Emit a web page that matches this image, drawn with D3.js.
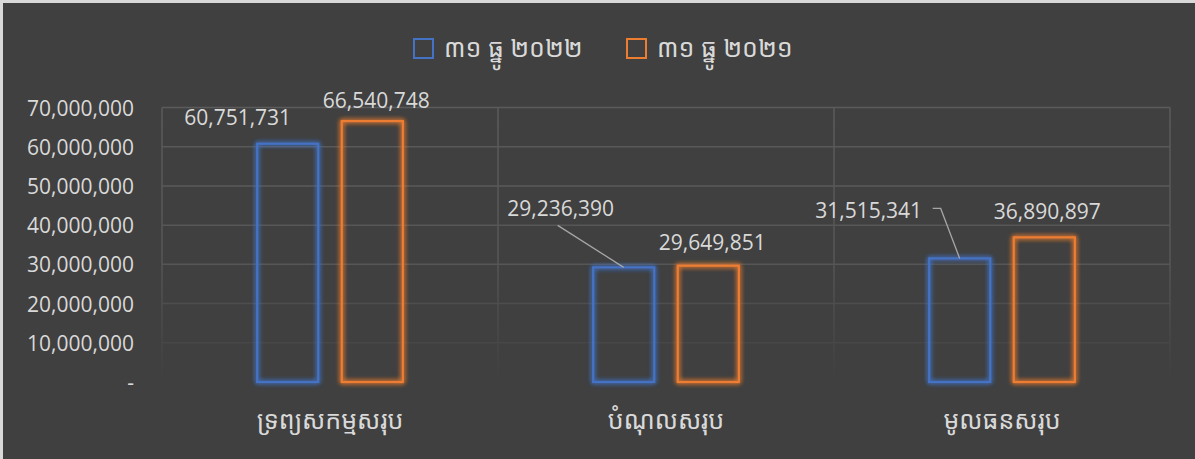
<!DOCTYPE html>
<html><head><meta charset="utf-8">
<script src="https://cdn.jsdelivr.net/npm/d3@7"></script>
<style>
html,body{margin:0;padding:0;background:#404040;}
svg{display:block;}
</style></head>
<body>
<svg id="chart" width="1195" height="459"></svg>
<script>
const categories = ["ទ្រព្យសកម្មសរុប", "បំណុលសរុប", "មូលធនសរុប"];
const seriesNames = ["៣១ ធ្នូ ២០២២", "៣១ ធ្នូ ២០២១"];
const values2022 = [60751731, 29236390, 31515341];
const values2021 = [66540748, 29649851, 36890897];
const yTicks = [0, 10000000, 20000000, 30000000, 40000000, 50000000, 60000000, 70000000];

const colors = ["#4472C4", "#ED7D31"];
const W = 1195, H = 459;
const margin = {left: 162, right: 25, top: 107.5, bottom: 77};
const svg = d3.select("#chart");
const numFont = "'Open Sans', 'Liberation Sans', sans-serif";
const khFont = "'Khmer OS', 'Noto Sans Khmer', 'Khmer OS System', 'Noto Sans', sans-serif";

// background + border
svg.append("rect").attr("width", W).attr("height", H).attr("fill", "#404040");
svg.append("path").attr("d", `M1.5,${H} L1.5,1.5 L${W},1.5`).attr("fill","none").attr("stroke","#d9d9d9").attr("stroke-width",3);

const defs = svg.append("defs");
const f = defs.append("filter").attr("id","glow").attr("x","-30%").attr("y","-30%").attr("width","160%").attr("height","160%");
f.append("feGaussianBlur").attr("in","SourceGraphic").attr("stdDeviation",2.8).attr("result","b");
const m = f.append("feMerge");
m.append("feMergeNode").attr("in","b");
m.append("feMergeNode").attr("in","b");
m.append("feMergeNode").attr("in","SourceGraphic");

const grad = defs.append("linearGradient").attr("id","fade").attr("x1",0).attr("y1",0).attr("x2",0).attr("y2",1).attr("gradientUnits","userSpaceOnUse")
  .attr("y1", margin.top).attr("y2", H - margin.bottom);
grad.append("stop").attr("offset","0%").attr("stop-color","#fff").attr("stop-opacity",1);
grad.append("stop").attr("offset","55%").attr("stop-color","#fff").attr("stop-opacity",0.85);
grad.append("stop").attr("offset","100%").attr("stop-color","#fff").attr("stop-opacity",0);
defs.append("mask").attr("id","gmask").attr("maskUnits","userSpaceOnUse")
  .append("rect").attr("x",0).attr("y",0).attr("width",W).attr("height",H).attr("fill","url(#fade)");

const x0 = d3.scaleBand().domain(categories).range([margin.left, W - margin.right]).paddingInner(0).paddingOuter(0);
const x1 = d3.scaleBand().domain(seriesNames).range([0, x0.bandwidth()]).paddingInner(0.278).paddingOuter(1.124);
const y = d3.scaleLinear().domain([0, 70000000]).range([H - margin.bottom, margin.top]);

// gridlines
const grid = svg.append("g").attr("mask","url(#gmask)");
grid.selectAll("line.h").data(yTicks.filter(d => d > 0)).join("line")
  .attr("x1", margin.left).attr("x2", W - margin.right)
  .attr("y1", d => y(d)).attr("y2", d => y(d))
  .attr("stroke", "#5b5b5b").attr("stroke-width", 1.5);
const vx = categories.map(c => x0(c)).concat([W - margin.right]);
grid.selectAll("line.v").data(vx).join("line")
  .attr("x1", d => d).attr("x2", d => d)
  .attr("y1", margin.top).attr("y2", H - margin.bottom)
  .attr("stroke", "#5b5b5b").attr("stroke-width", 1.5);

// y axis
const fmt = d3.format(",");
const yAxis = d3.axisLeft(y).tickValues(yTicks).tickSize(0).tickPadding(0)
  .tickFormat(d => d === 0 ? "-" : fmt(d));
const ya = svg.append("g").attr("transform", `translate(134,0)`).call(yAxis);
ya.select(".domain").remove();
ya.selectAll("text").attr("fill", "#d9d9d9").attr("font-family", numFont).attr("font-size", 21).attr("dy", "0.36em");

// x axis
const xAxis = d3.axisBottom(x0).tickSize(0).tickPadding(0);
const xa = svg.append("g").attr("transform", `translate(0,${H - margin.bottom + 38})`).call(xAxis);
xa.select(".domain").remove();
xa.selectAll("text").attr("fill", "#d9d9d9").attr("font-family", khFont).attr("font-size", 25).attr("dy", "0.35em");

// bars
const series = [values2022, values2021];
const bars = [];
categories.forEach((c, i) => {
  series.forEach((vals, s) => {
    bars.push({cat: c, s, v: vals[i], i});
  });
});
svg.append("g").selectAll("rect").data(bars).join("rect")
  .attr("x", d => x0(d.cat) + x1(seriesNames[d.s]))
  .attr("y", d => y(d.v))
  .attr("width", x1.bandwidth())
  .attr("height", d => y(0) - y(d.v))
  .attr("fill", "none")
  .attr("stroke", d => colors[d.s])
  .attr("stroke-width", 2.2)
  .attr("filter", "url(#glow)");

// data labels (offsets relative to bar top-centre)
const labelDx = [[-50, 4], [-63, 4], [-91, 3]];
const labelDy = [[-19, -13], [-51, -16], [-40, -18]];
const leader = [[false, false], [true, false], [true, false]];
const lab = svg.append("g");
bars.forEach(d => {
  const cx = x0(d.cat) + x1(seriesNames[d.s]) + x1.bandwidth() / 2;
  const ty = y(d.v);
  const lx = cx + labelDx[d.i][d.s], ly = ty + labelDy[d.i][d.s];
  lab.append("text").attr("x", lx).attr("y", ly).attr("text-anchor", "middle")
    .attr("fill", "#d9d9d9").attr("font-family", numFont).attr("font-size", 21).text(fmt(d.v));
  if (leader[d.i][d.s]) {
    let pts;
    if (d.i === 1) pts = [[lx - 3, ly + 9], [cx, ty]];
    else pts = [[lx + 64, ly - 10], [lx + 72, ly - 10], [cx, ty]];
    lab.append("path").attr("d", d3.line()(pts)).attr("fill", "none")
      .attr("stroke", "#a6a6a6").attr("stroke-width", 1.3);
  }
});

// legend
const legX = [413, 626];
const leg = svg.append("g");
seriesNames.forEach((n, s) => {
  leg.append("rect").attr("x", legX[s] + 1).attr("y", 39).attr("width", 19).attr("height", 19)
    .attr("fill", "none").attr("stroke", colors[s]).attr("stroke-width", 2);
  leg.append("text").attr("x", legX[s] + 31).attr("y", 48).attr("dy", "0.35em")
    .attr("fill", "#d9d9d9").attr("font-family", khFont).attr("font-size", 25).text(n);
});
</script>
</body></html>
